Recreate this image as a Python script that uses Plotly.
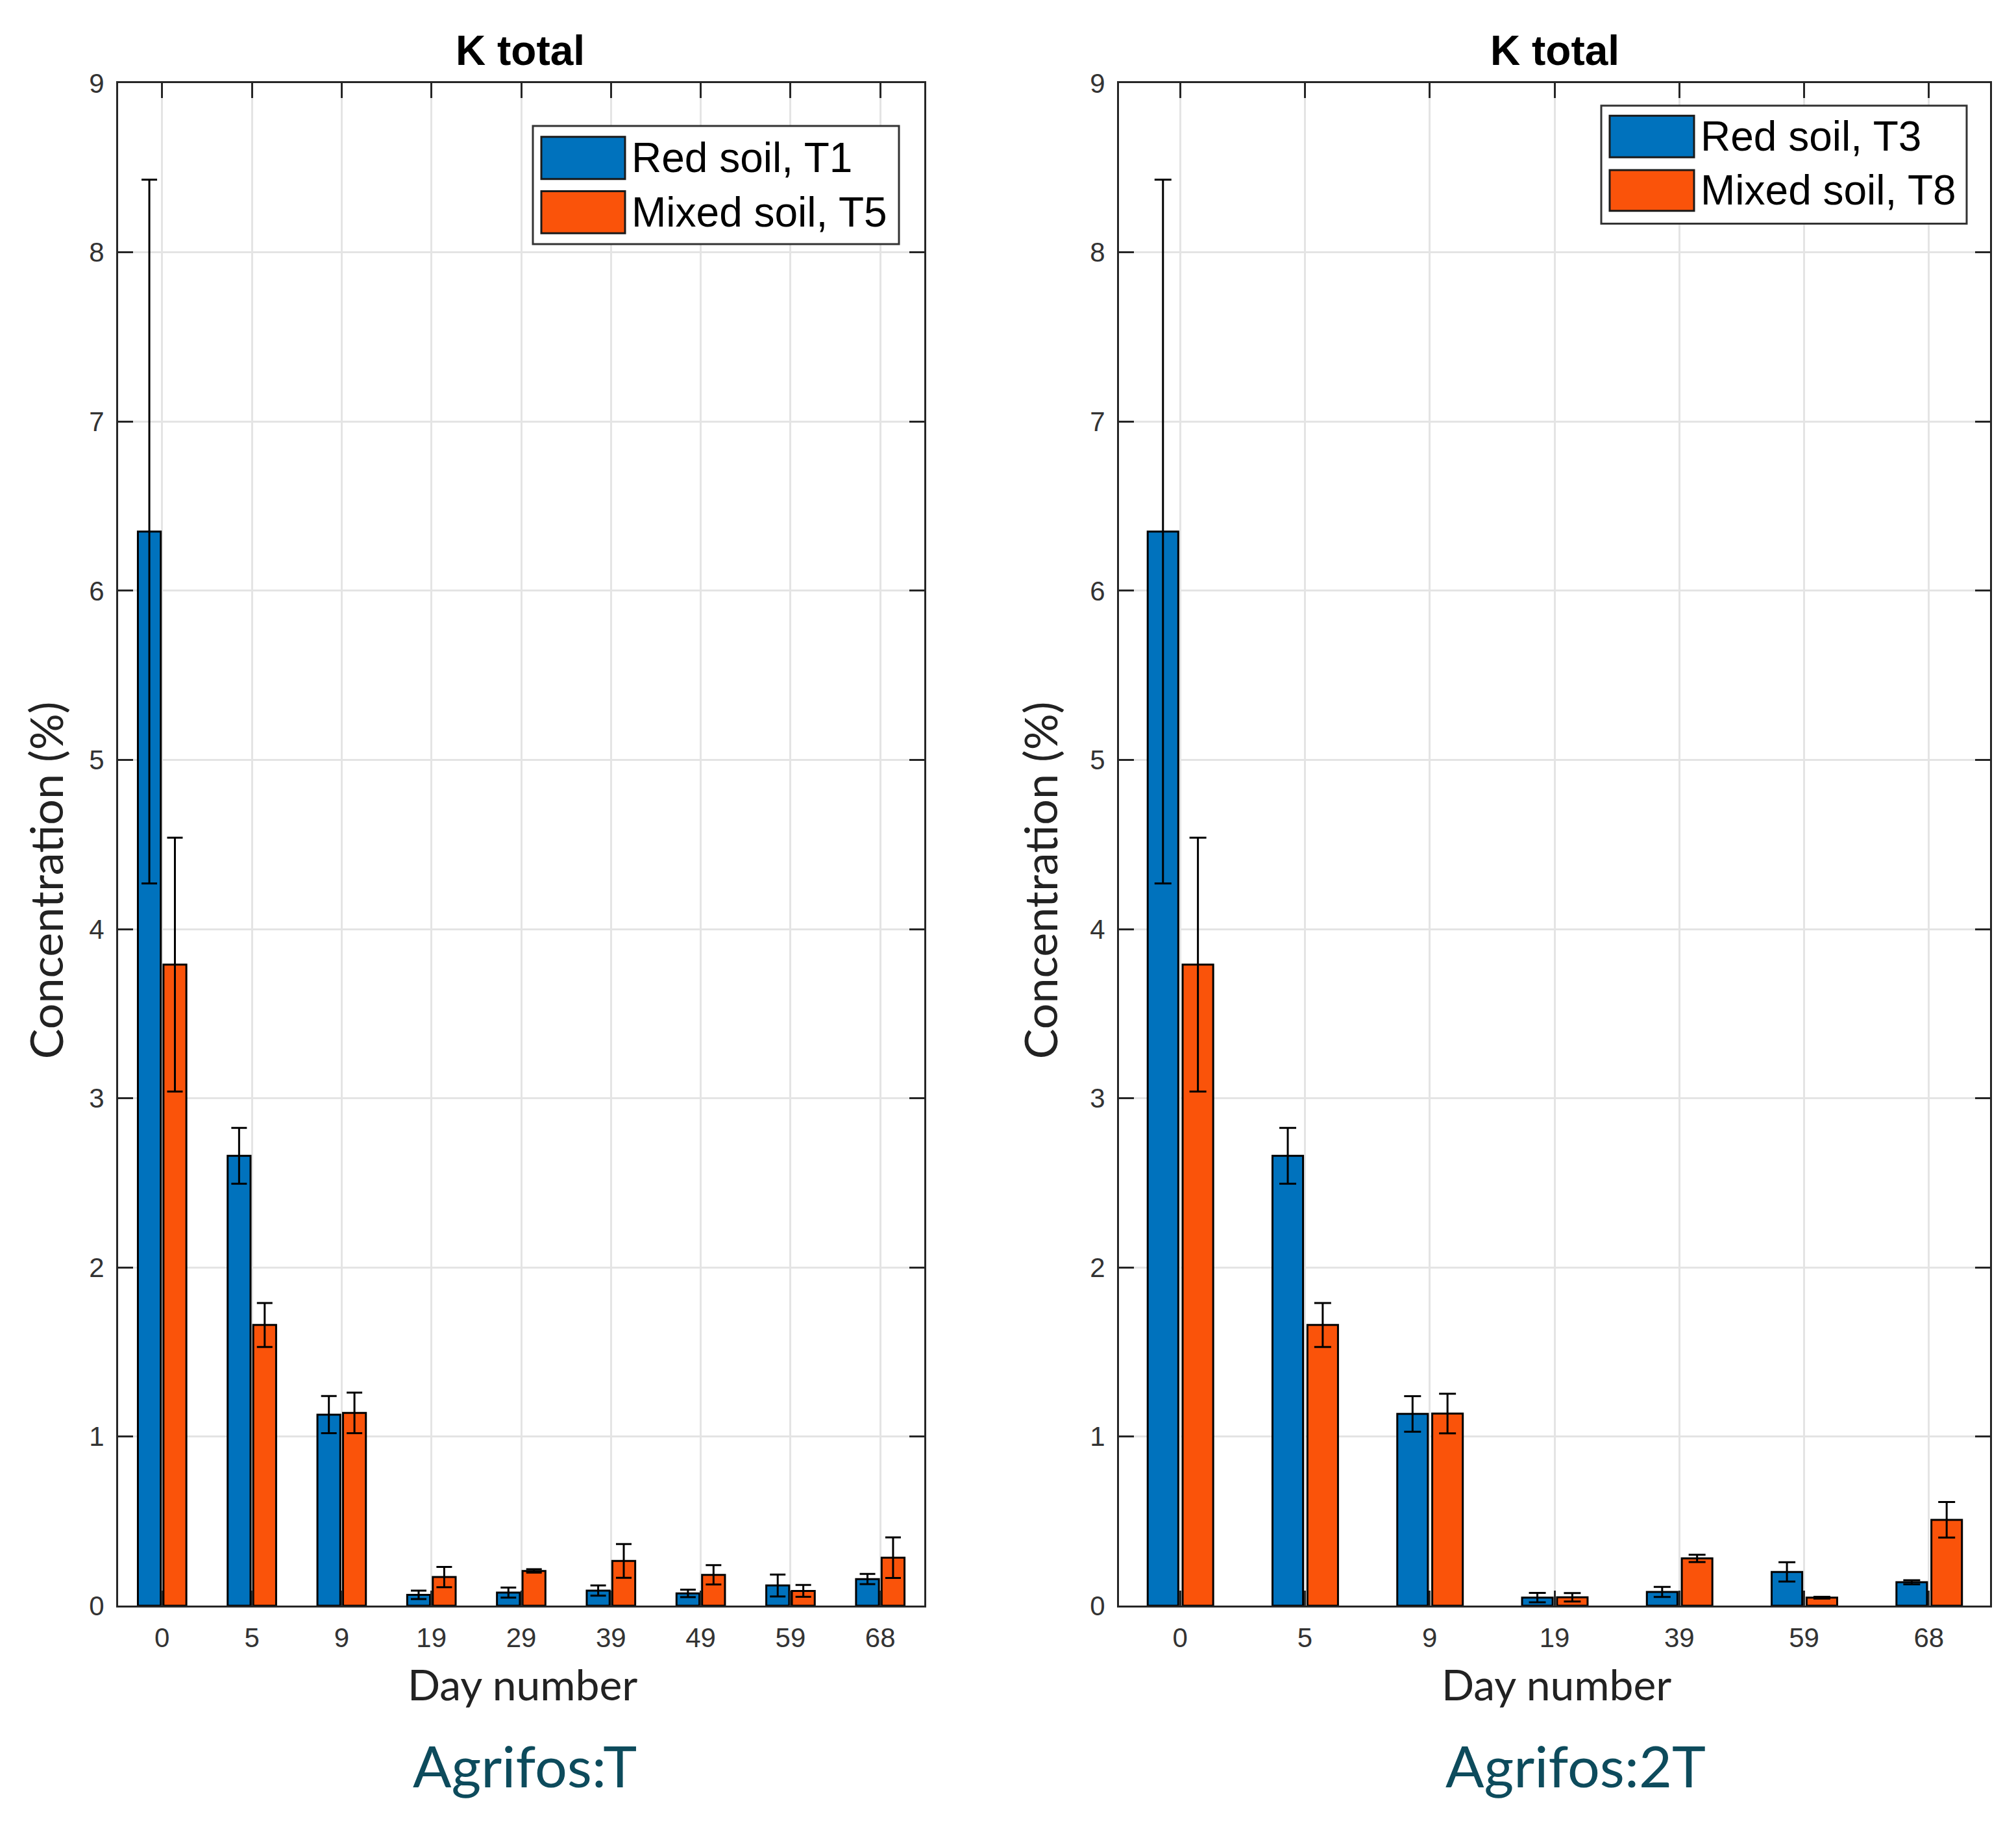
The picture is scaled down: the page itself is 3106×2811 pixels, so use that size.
import plotly.graph_objects as go

W, H = 3106, 2811

# ---------------- data ----------------
days_T = ["0", "5", "9", "19", "29", "39", "49", "59", "68"]
red_T1 = [6.35, 2.66, 1.13, 0.065, 0.078, 0.09, 0.073, 0.12, 0.158]
red_T1_err = [2.08, 0.165, 0.11, 0.025, 0.03, 0.03, 0.022, 0.065, 0.03]
mixed_T5 = [3.79, 1.66, 1.14, 0.17, 0.206, 0.265, 0.183, 0.088, 0.284]
mixed_T5_err = [0.75, 0.13, 0.12, 0.06, 0.01, 0.10, 0.057, 0.035, 0.12]

days_2T = ["0", "5", "9", "19", "39", "59", "68"]
red_T3 = [6.35, 2.66, 1.134, 0.048, 0.082, 0.20, 0.139]
red_T3_err = [2.08, 0.165, 0.105, 0.028, 0.03, 0.057, 0.012]
mixed_T8 = [3.79, 1.66, 1.136, 0.05, 0.28, 0.048, 0.508]
mixed_T8_err = [0.75, 0.13, 0.117, 0.025, 0.022, 0.005, 0.105]

y_ticks = [0, 1, 2, 3, 4, 5, 6, 7, 8, 9]

# ---------------- style ----------------
BLUE = "#0072BD"
ORANGE = "#FA530A"
AX = "#262626"
GRID = "#e4e4e4"
TEAL = "#0D4B5C"
TICKFONT = dict(family="Liberation Sans, Arial, sans-serif", size=42, color="#333333")
LABFONT = "Lato, Open Sans, sans-serif"


def px(x):
    return x / W


def py(y):
    return 1 - y / H


fig = go.Figure()


def add_bars(days, vals, errs, color, xa, ya, offset, width, cap, name):
    fig.add_trace(go.Bar(
        x=days, y=vals, name=name,
        marker=dict(color=color, line=dict(color="black", width=3)),
        error_y=dict(type="data", array=errs, visible=True, color="black",
                     thickness=3, width=cap),
        offset=offset, width=width, xaxis=xa, yaxis=ya, showlegend=False,
    ))


add_bars(days_T, red_T1, red_T1_err, BLUE, "x", "y", -0.27, 0.255, 12, "Red soil, T1")
add_bars(days_T, mixed_T5, mixed_T5_err, ORANGE, "x", "y", 0.015, 0.255, 12, "Mixed soil, T5")
add_bars(days_2T, red_T3, red_T3_err, BLUE, "x2", "y2", -0.26, 0.245, 13, "Red soil, T3")
add_bars(days_2T, mixed_T8, mixed_T8_err, ORANGE, "x2", "y2", 0.02, 0.245, 13, "Mixed soil, T8")


def xaxis_cfg(domain, cats, anchor):
    return dict(
        domain=domain, type="category", categoryorder="array", categoryarray=cats,
        range=[-0.49, len(cats) - 1 + 0.49], anchor=anchor,
        showgrid=True, gridcolor=GRID, gridwidth=3,
        showline=True, linecolor=AX, linewidth=3, mirror="ticks",
        ticks="inside", ticklen=23, tickwidth=3, tickcolor=AX,
        tickfont=TICKFONT, ticklabelstandoff=10, zeroline=False, fixedrange=True,
    )


def yaxis_cfg(anchor):
    return dict(
        domain=[py(2492), py(107)], range=[0, 9], anchor=anchor,
        tickmode="array", tickvals=y_ticks, ticktext=[str(v) for v in y_ticks],
        showgrid=True, gridcolor=GRID, gridwidth=3,
        showline=True, linecolor=AX, linewidth=3, mirror="ticks",
        ticks="inside", ticklen=23, tickwidth=3, tickcolor=AX,
        tickfont=TICKFONT, ticklabelstandoff=10, zeroline=False, fixedrange=True,
    )


annotations = []
shapes = []


def text(x, y, s, size, family, color="black", anchor="center", angle=0, bold=False):
    annotations.append(dict(
        x=px(x), y=py(y), xref="paper", yref="paper", text=("<b>%s</b>" % s) if bold else s,
        showarrow=False, xanchor=anchor, yanchor="middle", textangle=angle,
        font=dict(family=family, size=size, color=color),
    ))


# titles
text(802, 56, "K total", 64, "Liberation Sans, Arial, sans-serif", bold=True)
text(2395, 56, "K total", 64, "Liberation Sans, Arial, sans-serif", bold=True)
# y labels
text(70, 1356, "Concentration (%)", 70, LABFONT, color="#222222", angle=-90)
text(1602, 1356, "Concentration (%)", 70, LABFONT, color="#222222", angle=-90)
# x labels
text(805, 2614, "Day number", 66, LABFONT, color="#222222")
text(2398, 2614, "Day number", 66, LABFONT, color="#222222")
# panel captions
text(808, 2742, "Agrifos:T", 88, LABFONT, color=TEAL)
text(2427, 2742, "Agrifos:2T", 88, LABFONT, color=TEAL)


def legend(box, sw_x, rows):
    x0, x1, y0, y1 = box
    shapes.append(dict(type="rect", xref="paper", yref="paper",
                       x0=px(x0), x1=px(x1), y0=py(y1), y1=py(y0),
                       line=dict(color="#333333", width=3), fillcolor="white", layer="above"))
    for (ya, yb, color, label) in rows:
        shapes.append(dict(type="rect", xref="paper", yref="paper",
                           x0=px(sw_x[0]), x1=px(sw_x[1]), y0=py(yb), y1=py(ya),
                           line=dict(color="#1a1a1a", width=3), fillcolor=color, layer="above"))
        text(sw_x[1] + 8, (ya + yb) / 2, label, 64, "Liberation Sans, Arial, sans-serif", anchor="left")


legend((821, 1385, 174, 359), (834, 963),
       [(191, 257, BLUE, "Red soil, T1"), (276, 342, ORANGE, "Mixed soil, T5")])
legend((2467, 3030, 142, 327), (2480, 2610),
       [(158, 223, BLUE, "Red soil, T3"), (243, 307, ORANGE, "Mixed soil, T8")])

fig.update_layout(
    width=W, height=H, autosize=False,
    margin=dict(l=0, r=0, t=0, b=0, pad=0),
    paper_bgcolor="white", plot_bgcolor="white",
    barmode="overlay", showlegend=False,
    xaxis=xaxis_cfg([px(182), px(1424)], days_T, "y"),
    yaxis=yaxis_cfg("x"),
    xaxis2=xaxis_cfg([px(1724), px(3066)], days_2T, "y2"),
    yaxis2=yaxis_cfg("x2"),
    annotations=annotations,
    shapes=shapes,
)

fig.write_html("out.html", config={"displayModeBar": False},
               post_script="document.body.style.margin='0';")
